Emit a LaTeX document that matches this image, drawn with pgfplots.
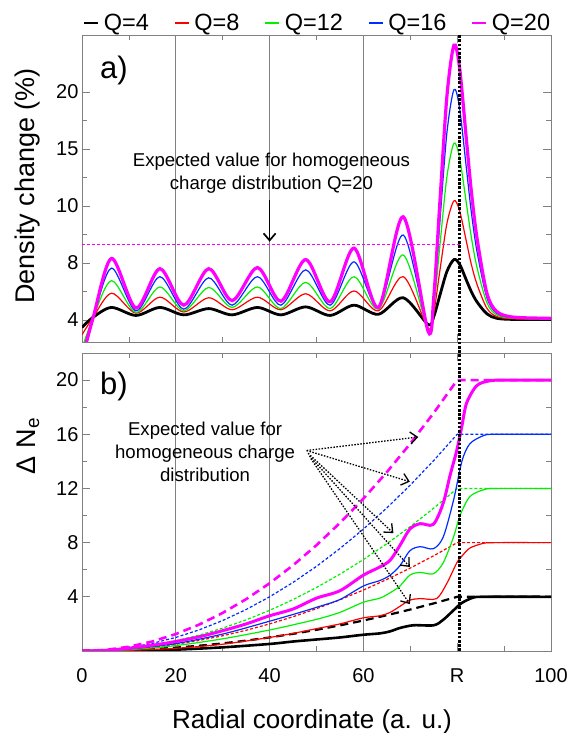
\documentclass[border=0pt]{standalone}
\usepackage{fontspec}
\setmainfont{Liberation Sans}
\usepackage{pgfplots}
\pgfplotsset{compat=1.18}
\usetikzlibrary{arrows.meta}
\definecolor{cred}{RGB}{255,0,0}
\definecolor{cgreen}{RGB}{0,240,0}
\definecolor{cblue}{RGB}{0,45,255}
\definecolor{cmag}{RGB}{255,0,255}
\definecolor{axgray}{RGB}{128,128,128}
\pgfplotsset{
  common/.style={
    scale only axis, width=469pt,
    xmin=0, xmax=100,
    xtick={0,20,40,60,80,100},
    minor x tick num=1,
    axis line style={axgray, line width=0.8pt},
    every tick/.style={axgray, line width=0.8pt},
    major tick length=8pt, minor tick length=5pt,
    tick align=inside,
    extra x ticks={20,40,60},
    extra x tick labels={},
    extra x tick style={grid=major, major grid style={axgray, line width=0.7pt}},
    /pgf/number format/assume math mode=true,
    tick label style={font=\fontsize{20}{24}\selectfont},
  },
}
\begin{document}
\begin{tikzpicture}
\useasboundingbox (0,0) rectangle (567pt,733pt);
% ---------------- top panel ----------------
\begin{axis}[common, at={(82pt,391pt)}, anchor=south west, height=307pt,
  ymin=-0.386, ymax=5.0, ytick={0,1,2,3,4}, yticklabels={4,8,10,15,20},
  minor y tick num=1, xticklabels={},
  legend columns=5,
  legend style={draw=none, fill=none, at={(axis description cs:0.506,1)}, anchor=south,
    yshift=1pt, inner sep=0pt, font=\fontsize{23.5}{28}\selectfont,
    nodes={inner xsep=5pt},
    /tikz/every odd column/.append style={column sep=0pt},
    /tikz/every even column/.append style={column sep=20pt}},
  legend image code/.code={\draw[#1, line width=1.4pt] (0pt,0pt) -- (14pt,0pt);},
]
\addplot[black, line width=2.8pt, smooth] coordinates {
(0,-0.13) (2.4,0.05) (6.3,0.22) (11.5,0.08) (16.6,0.22) (21.7,0.09) (27.0,0.20) (32.0,0.09)
(37.4,0.22) (42.4,0.09) (47.7,0.23) (52.9,0.08) (58.0,0.26) (63.2,0.10) (68.5,0.39) (73.8,-0.08)
(75.0,0.06) (76.3,0.43) (77.8,0.85) (79.3,1.06) (80.5,0.98) (82.0,0.69) (83.0,0.50) (84.2,0.32)
(86.3,0.11) (88.4,0.03) (92,0.01) (100,0.01)};
\addlegendentry{Q=4}
\addplot[cred, line width=1.2pt, smooth] coordinates {
(0,-0.26) (2.4,0.05) (6.3,0.47) (11.5,0.12) (16.6,0.40) (21.7,0.14) (27.0,0.39) (32.0,0.18)
(37.4,0.40) (42.4,0.18) (47.7,0.46) (52.9,0.16) (58.0,0.51) (63.2,0.16) (68.5,0.76) (73.8,-0.14)
(75.0,0.13) (76.3,0.86) (77.8,1.69) (79.3,2.09) (80.5,1.92) (82.0,1.36) (83.0,0.98) (84.2,0.63)
(86.3,0.21) (88.4,0.06) (92,0.02) (100,0.02)};
\addlegendentry{Q=8}
\addplot[cgreen, line width=1.2pt, smooth] coordinates {
(0,-0.50) (2.4,0.05) (6.3,0.69) (11.5,0.13) (16.6,0.58) (21.7,0.16) (27.0,0.57) (32.0,0.22)
(37.4,0.58) (42.4,0.20) (47.7,0.66) (52.9,0.20) (58.0,0.76) (63.2,0.19) (68.5,1.14) (73.8,-0.17)
(75.0,0.22) (76.3,1.30) (77.8,2.51) (79.3,3.10) (80.5,2.85) (82.0,2.02) (83.0,1.46) (84.2,0.93)
(86.3,0.31) (88.4,0.09) (92,0.03) (100,0.02)};
\addlegendentry{Q=12}
\addplot[cblue, line width=1.2pt, smooth] coordinates {
(0,-0.60) (2.4,0.05) (6.3,0.91) (11.5,0.16) (16.6,0.76) (21.7,0.19) (27.0,0.74) (32.0,0.26)
(37.4,0.76) (42.4,0.26) (47.7,0.88) (52.9,0.26) (58.0,1.02) (63.2,0.22) (68.5,1.49) (73.8,-0.18)
(75.0,0.33) (76.3,1.72) (77.8,3.28) (79.3,4.04) (80.5,3.72) (82.0,2.63) (83.0,1.90) (84.2,1.21)
(86.3,0.40) (88.4,0.12) (92,0.04) (100,0.03)};
\addlegendentry{Q=16}
\addplot[cmag, line width=3.2pt, smooth] coordinates {
(0,-0.70) (2.4,0.05) (6.3,1.08) (11.5,0.21) (16.6,0.90) (21.7,0.26) (27.0,0.90) (32.0,0.34)
(37.4,0.92) (42.4,0.33) (47.7,1.06) (52.9,0.32) (58.0,1.26) (63.2,0.22) (68.5,1.81) (73.8,-0.20)
(75.0,0.40) (76.3,2.06) (77.8,3.92) (79.3,4.82) (80.5,4.43) (82.0,3.13) (83.0,2.27) (84.2,1.45)
(86.3,0.48) (88.4,0.15) (92,0.05) (100,0.03)};
\addlegendentry{Q=20}
\addplot[cmag, line width=1pt, dash pattern=on 3pt off 2pt, forget plot] coordinates {(0,1.316) (80.5,1.316)};
\draw[-{Straight Barb[length=7pt,width=12pt]}, line width=1.7pt] (axis cs:40,2.105) -- (axis cs:40,1.374);
\node[align=center, font=\fontsize{18.6}{22.7}\selectfont] at (axis cs:40.4,2.58)
  {Expected value for homogeneous\\charge distribution Q=20};
\node[anchor=base west, inner sep=0pt, font=\fontsize{31}{36}\selectfont] at (axis description cs:0.038,0.857) {a)};
\end{axis}
% ---------------- bottom panel ----------------
\begin{axis}[common, at={(82pt,82pt)}, anchor=south west, height=298pt,
  ymin=0, ymax=22, ytick={4,8,12,16,20}, minor y tick num=1,
  xticklabels={0,20,40,60,R,100}, xticklabel style={yshift=-14pt},
]
% expected (homogeneous) curves
\addplot[cred, line width=1.2pt, dash pattern=on 3pt off 2pt] coordinates {
(0,0) (5,0.031) (10,0.125) (15,0.281) (20,0.5) (25,0.781) (30,1.125) (35,1.531) (40,2)
(45,2.531) (50,3.125) (55,3.781) (60,4.5) (65,5.281) (70,6.125) (75,7.031) (80,8) (100,8)};
\addplot[cgreen, line width=1.2pt, dash pattern=on 3pt off 2pt] coordinates {
(0,0) (5,0.047) (10,0.188) (15,0.422) (20,0.75) (25,1.172) (30,1.688) (35,2.297) (40,3)
(45,3.797) (50,4.688) (55,5.672) (60,6.75) (65,7.922) (70,9.188) (75,10.547) (80,12) (100,12)};
\addplot[cblue, line width=1.2pt, dash pattern=on 3pt off 2pt] coordinates {
(0,0) (5,0.063) (10,0.25) (15,0.563) (20,1) (25,1.563) (30,2.25) (35,3.063) (40,4)
(45,5.063) (50,6.25) (55,7.563) (60,9) (65,10.563) (70,12.25) (75,14.063) (80,16) (100,16)};
\addplot[cmag, line width=2.6pt, dash pattern=on 8pt off 5pt] coordinates {
(0,0) (5,0.078) (10,0.313) (15,0.703) (20,1.25) (25,1.953) (30,2.813) (35,3.828) (40,5)
(45,6.328) (50,7.813) (55,9.453) (60,11.25) (65,13.203) (70,15.313) (75,17.578) (80,20) (100,20)};
\addplot[black, line width=2.2pt, dash pattern=on 8pt off 5pt] coordinates {
(0,0) (5,0.016) (10,0.063) (15,0.141) (20,0.25) (25,0.391) (30,0.563) (35,0.766) (40,1)
(45,1.266) (50,1.563) (55,1.891) (60,2.25) (65,2.641) (70,3.063) (75,3.516) (80,4) (100,4)};
% computed curves
\addplot[black, line width=2.6pt, smooth] coordinates {
(0,0) (10,0.02) (20,0.1) (30,0.27) (40,0.52) (45,0.7) (50,0.85) (55,1.0) (60,1.2) (63.5,1.3)
(65.7,1.45) (67.8,1.7) (70.7,1.9) (75,1.9) (77,2.3) (79.2,3.0) (81,3.55) (83.5,3.95) (86,4) (100,4)};
\addplot[cred, line width=1.2pt, smooth] coordinates {
(0,0) (10,0.05) (20,0.2) (30,0.5) (40,1.0) (45,1.3) (50,1.65) (55,2.0) (60,2.45) (63.5,2.6)
(65.7,2.85) (67.8,3.3) (69.9,3.75) (72.1,3.87) (75.6,3.87) (77.8,5.0) (79.9,6.5) (81,7.0)
(82.7,7.6) (85.6,7.95) (88,8) (100,8)};
\addplot[cgreen, line width=1.2pt, smooth] coordinates {
(0,0) (10,0.1) (20,0.4) (30,0.9) (40,1.55) (46.5,2.05) (50.7,2.4) (55,2.85) (60,3.6) (63.5,3.9)
(65.7,4.3) (67.8,4.8) (69.9,5.6) (72.1,5.8) (74.9,5.7) (77,6.5) (79.2,8.4) (80.6,10.0)
(82.7,11.4) (85.6,11.9) (88,12) (100,12)};
\addplot[cblue, line width=1.2pt, smooth] coordinates {
(0,0) (10,0.15) (20,0.55) (30,1.25) (40,2.2) (46.5,2.85) (50.7,3.3) (55,3.8) (60,4.8) (63.5,5.2)
(65.7,5.6) (67.8,6.3) (69.9,7.4) (72.1,7.7) (74.9,7.55) (77,8.4) (79.2,11.1) (81,14.0)
(82.7,15.3) (85.6,15.9) (88,16) (100,16)};
\addplot[cmag, line width=3pt, smooth] coordinates {
(0,0) (5,0.05) (10,0.2) (15,0.42) (20,0.7) (25,1.05) (30,1.5) (35,2.0) (40,2.6) (45,3.1)
(50,3.9) (55,4.45) (60,5.6) (63.5,6.2) (65.7,6.7) (67.8,7.8) (69.9,9.0) (72.1,9.4) (74.9,9.35)
(77,10.9) (78.5,13.0) (79.9,14.8) (81,16.6) (82,18.3) (84.2,19.6) (87,19.95) (90,20) (100,20)};
% annotation
\node[align=center, font=\fontsize{18.6}{22.7}\selectfont] at (axis cs:26.25,14.7)
  {Expected value for\\homogeneous charge\\distribution};
\begin{scope}[line width=1.3pt, dash pattern=on 1.5pt off 1.5pt, -{Straight Barb[length=7pt,width=12pt]}]
\draw (axis cs:47.9,14.8) -- (axis cs:71.7,15.8);
\draw (axis cs:47.9,14.8) -- (axis cs:69.9,12.5);
\draw (axis cs:48.2,14.6) -- (axis cs:66.4,8.7);
\draw (axis cs:48.5,14.4) -- (axis cs:69.9,6.2);
\draw (axis cs:48.8,14.2) -- (axis cs:69.9,3.46);
\end{scope}
\node[anchor=base west, inner sep=0pt, font=\fontsize{31}{36}\selectfont] at (axis description cs:0.038,0.862) {b)};
\end{axis}
% R marker line through both panels
\draw[line width=2.6pt, dash pattern=on 2.6pt off 1.6pt] (459.5pt,82pt) -- (459.5pt,698pt);
% axis labels
\node[rotate=90, font=\fontsize{27}{32}\selectfont] at (28pt,547pt) {Density change (\%)};
\node[rotate=90, font=\fontsize{27}{32}\selectfont] at (28pt,287pt) {Δ N\textsubscript{e}};
\node[anchor=base, font=\fontsize{26}{31}\selectfont] at (312pt,5pt) {Radial coordinate (a. u.)};
\end{tikzpicture}
\end{document}
